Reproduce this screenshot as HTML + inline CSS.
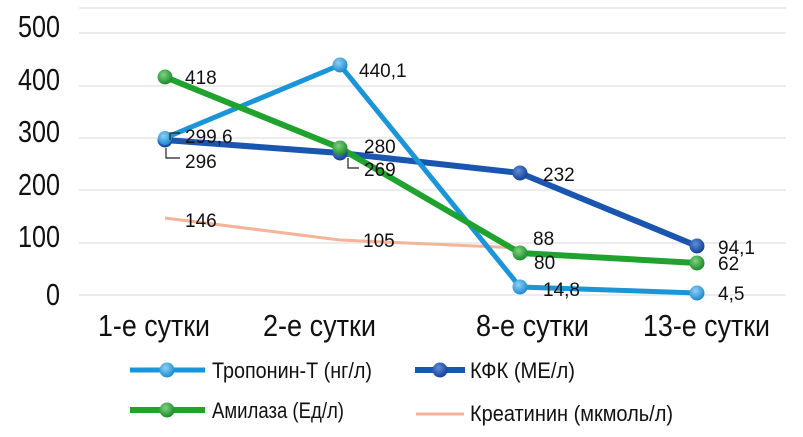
<!DOCTYPE html>
<html><head><meta charset="utf-8"><style>
body{margin:0;background:#fff}
svg{display:block}
.ax{font-family:"Liberation Sans",sans-serif;font-size:31px;fill:#111}
.dl{font-family:"Liberation Sans","DejaVu Sans",sans-serif;font-size:19px;fill:#111}
.lg{font-family:"Liberation Sans",sans-serif;font-size:22px;fill:#111}
</style></head><body>
<svg width="803" height="437" viewBox="0 0 803 437">
<defs>
<radialGradient id="gb" cx="40%" cy="35%" r="65%"><stop offset="0" stop-color="#8fd0f5"/><stop offset="1" stop-color="#1a8ad0"/></radialGradient>
<radialGradient id="gd" cx="40%" cy="35%" r="65%"><stop offset="0" stop-color="#5f8fd8"/><stop offset="1" stop-color="#143f98"/></radialGradient>
<radialGradient id="gg" cx="40%" cy="35%" r="65%"><stop offset="0" stop-color="#7fd37f"/><stop offset="1" stop-color="#1a8a2a"/></radialGradient>
</defs>
<g stroke="#e6e6e6" stroke-width="1.5">
<line x1="79" y1="8" x2="786" y2="8"/><line x1="79" y1="33" x2="786" y2="33"/><line x1="79" y1="86" x2="786" y2="86"/><line x1="79" y1="138" x2="786" y2="138"/><line x1="79" y1="190" x2="786" y2="190"/><line x1="79" y1="243" x2="786" y2="243"/><line x1="79" y1="295" x2="786" y2="295"/>
</g>
<g class="ax">
<text x="18" y="37" textLength="42" lengthAdjust="spacingAndGlyphs">500</text>
<text x="18" y="90" textLength="42" lengthAdjust="spacingAndGlyphs">400</text>
<text x="18" y="142" textLength="42" lengthAdjust="spacingAndGlyphs">300</text>
<text x="18" y="195" textLength="42" lengthAdjust="spacingAndGlyphs">200</text>
<text x="18" y="247" textLength="42" lengthAdjust="spacingAndGlyphs">100</text>
<text x="46" y="305" textLength="14" lengthAdjust="spacingAndGlyphs">0</text>
<text x="98" y="336" textLength="112" lengthAdjust="spacingAndGlyphs">1-е сутки</text>
<text x="263" y="336" textLength="113" lengthAdjust="spacingAndGlyphs">2-е сутки</text>
<text x="476" y="336" textLength="113" lengthAdjust="spacingAndGlyphs">8-е сутки</text>
<text x="643" y="336" textLength="127" lengthAdjust="spacingAndGlyphs">13-е сутки</text>
</g>
<polyline points="165,218 340,240 519,248" fill="none" stroke="#f5b49a" stroke-width="3"/>
<polyline points="165,140 340,153 520,173 697,246" fill="none" stroke="#1a55b0" stroke-width="6"/>
<polyline points="165,138 340,65 520,287 697,293" fill="none" stroke="#1a95d8" stroke-width="5"/>
<polyline points="165,77 340,148 520,253 697,263" fill="none" stroke="#1fa22e" stroke-width="6"/>
<g fill="url(#gd)"><circle cx="165" cy="140" r="7.5"/><circle cx="340" cy="153" r="7.5"/><circle cx="520" cy="173" r="7.5"/><circle cx="697" cy="246" r="7.5"/></g>
<g fill="url(#gb)"><circle cx="165" cy="138" r="7"/><circle cx="340" cy="65" r="7.5"/><circle cx="520" cy="287" r="7.5"/><circle cx="697" cy="293" r="7.5"/></g>
<g fill="url(#gg)"><circle cx="165" cy="77" r="7.5"/><circle cx="340" cy="148" r="7.5"/><circle cx="520" cy="253" r="7.5"/><circle cx="697" cy="263" r="7.5"/></g>
<g fill="none" stroke="#222" stroke-width="1.2"><polyline points="180,133 170,133 170,140"/><polyline points="180,158 166,158 166,148"/><polyline points="359,168 348,168 348,158"/></g>
<g class="dl">
<text x="185" y="84">418</text><text x="359" y="77">440,1</text>
<text x="185" y="143">299,6</text><text x="185" y="168">296</text>
<text x="364" y="153">280</text><text x="364" y="176">269</text>
<text x="543" y="181">232</text>
<text x="185" y="227">146</text><text x="363" y="247">105</text>
<text x="533" y="245">88</text><text x="534" y="269">80</text><text x="543" y="296">14,8</text>
<text x="718" y="254">94,1</text><text x="718" y="270">62</text><text x="718" y="300">4,5</text>
</g>
<line x1="130" y1="370" x2="205" y2="370" stroke="#1a95d8" stroke-width="5"/><circle cx="167" cy="370" r="7.5" fill="url(#gb)"/>
<text class="lg" x="212" y="378" textLength="160" lengthAdjust="spacingAndGlyphs">Тропонин-Т (нг/л)</text>
<line x1="415" y1="370" x2="465" y2="370" stroke="#1a55b0" stroke-width="6"/><circle cx="440" cy="370" r="7.5" fill="url(#gd)"/>
<text class="lg" x="470" y="378" textLength="105" lengthAdjust="spacingAndGlyphs">КФК (МЕ/л)</text>
<line x1="130" y1="410" x2="205" y2="410" stroke="#1fa22e" stroke-width="6"/><circle cx="167" cy="410" r="7.5" fill="url(#gg)"/>
<text class="lg" x="212" y="418" textLength="132" lengthAdjust="spacingAndGlyphs">Амилаза (Ед/л)</text>
<line x1="416" y1="414" x2="464" y2="414" stroke="#f5b49a" stroke-width="3"/>
<text class="lg" x="470" y="421" textLength="203" lengthAdjust="spacingAndGlyphs">Креатинин (мкмоль/л)</text>
</svg>
</body></html>
